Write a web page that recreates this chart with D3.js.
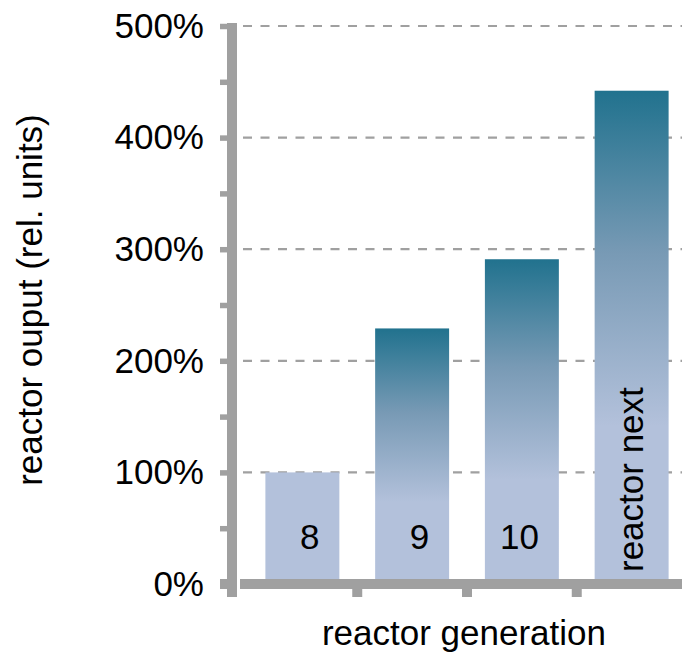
<!DOCTYPE html>
<html>
<head>
<meta charset="utf-8">
<script src="https://cdn.jsdelivr.net/npm/d3@7"></script>
<style>
  html, body { margin: 0; padding: 0; background: #fff; }
  svg { display: block; }
  text { font-family: "Liberation Sans", Arial, sans-serif; fill: #000; }
</style>
</head>
<body>
<svg id="chart" width="682" height="656"></svg>
<script>
// Reactor output per generation, relative to generation 8 (%)
const generations = ["8", "9", "10", "reactor next"];
const outputPct = [100, 229, 291, 442];
const gradientBars = [false, true, true, true];
const majorTicks = [0, 100, 200, 300, 400, 500];
const minorTicks = [50, 150, 250, 350, 450];
const gridTicks = [100, 200, 300, 400, 500];

const svg = d3.select("#chart");
const axisColor = "#a0a0a0";
const axisX = 232, axisY = 584;
const fontSize = 35;

const y = d3.scaleLinear().domain([0, 500]).range([axisY, 26]);
const x = d3.scaleBand().domain(generations).range([247.5, 686.5])
  .paddingInner(0.326).paddingOuter(0.163);

// bar fill: dark teal on top fading to pale lavender
const defs = svg.append("defs");
const grad = defs.append("linearGradient").attr("id", "barFade")
  .attr("x1", 0).attr("y1", 0).attr("x2", 0).attr("y2", 1);
[[0, "#21728e"], [0.33, "#789ab5"], [0.68, "#b3c1db"], [1, "#b3c1db"]]
  .forEach(([o, c]) => grad.append("stop").attr("offset", o).attr("stop-color", c));

// dashed gridlines
svg.append("g").selectAll("line").data(gridTicks).join("line")
  .attr("x1", 243).attr("x2", 682)
  .attr("y1", d => y(d)).attr("y2", d => y(d))
  .attr("stroke", axisColor).attr("stroke-width", 2.2)
  .attr("stroke-dasharray", "9,8.5");

// bars
const bars = generations.map((g, i) => ({ g, v: outputPct[i], fade: gradientBars[i] }));
svg.append("g").selectAll("rect").data(bars).join("rect")
  .attr("x", d => x(d.g))
  .attr("width", x.bandwidth())
  .attr("y", d => y(d.v))
  .attr("height", d => y(0) - y(d.v))
  .attr("fill", d => d.fade ? "url(#barFade)" : "#b3c1db");

// labels inside bars
svg.append("g").selectAll("text").data(bars.slice(0, 3)).join("text")
  .attr("x", d => x(d.g) + x.bandwidth() - 20)
  .attr("y", 549)
  .attr("text-anchor", "end")
  .attr("font-size", fontSize)
  .text(d => d.g);
const last = bars[3];
svg.append("text")
  .attr("transform", `translate(${x(last.g) + x.bandwidth() / 2 + 11},572) rotate(-90)`)
  .attr("text-anchor", "start")
  .attr("font-size", fontSize)
  .text(last.g);

// y axis: major ticks with labels, minor ticks without
const yAxis = svg.append("g").attr("transform", `translate(${axisX},0)`)
  .call(d3.axisLeft(y).tickValues(majorTicks).tickSize(12).tickPadding(16)
    .tickFormat(d => d + "%"));
const yMinor = svg.append("g").attr("transform", `translate(${axisX},0)`)
  .call(d3.axisLeft(y).tickValues(minorTicks).tickSize(12).tickFormat(""));
[yAxis, yMinor].forEach(g => {
  g.select(".domain").remove();
  g.selectAll(".tick line").attr("stroke", axisColor).attr("stroke-width", 5.5);
});
yAxis.selectAll(".tick text").attr("font-size", fontSize).attr("fill", "#000")
  .attr("font-family", "Liberation Sans, Arial, sans-serif");

// x axis line with ticks at band boundaries
const boundaries = generations.slice(1).map(g => x(g) - x.step() * x.paddingInner() / 2);
svg.append("line")
  .attr("x1", 240).attr("x2", 682).attr("y1", axisY).attr("y2", axisY)
  .attr("stroke", axisColor).attr("stroke-width", 10);
svg.append("g").selectAll("line").data(boundaries).join("line")
  .attr("x1", d => d).attr("x2", d => d)
  .attr("y1", axisY + 5).attr("y2", axisY + 13)
  .attr("stroke", axisColor).attr("stroke-width", 10);

// y axis line
svg.append("line")
  .attr("x1", axisX).attr("x2", axisX).attr("y1", 23).attr("y2", 597)
  .attr("stroke", axisColor).attr("stroke-width", 10);
// zero tick matches the x axis thickness
svg.append("line")
  .attr("x1", 220).attr("x2", axisX).attr("y1", axisY).attr("y2", axisY)
  .attr("stroke", axisColor).attr("stroke-width", 10);

// axis titles
svg.append("text")
  .attr("transform", "translate(42,300) rotate(-90)")
  .attr("text-anchor", "middle").attr("font-size", fontSize)
  .text("reactor ouput (rel. units)");
svg.append("text")
  .attr("x", 464).attr("y", 645)
  .attr("text-anchor", "middle").attr("font-size", fontSize)
  .text("reactor generation");
</script>
</body>
</html>
